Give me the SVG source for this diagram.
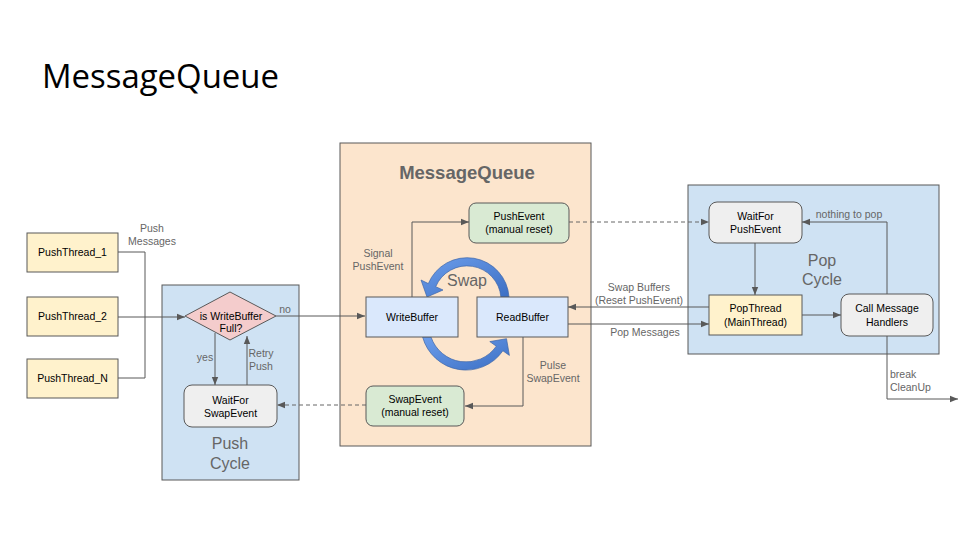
<svg xmlns="http://www.w3.org/2000/svg" width="960" height="540" viewBox="0 0 960 540">
<defs>
<style>
.box{stroke:#595959;stroke-width:1}
.yellow{fill:#fff2cc}
.blue{fill:#cfe2f3}
.orange{fill:#fce5cd}
.green{fill:#d9ead3}
.grey{fill:#efefef}
.buf{fill:#dae8fc}
.pink{fill:#f4cccc}
.t{font-family:"Liberation Sans",Arial,sans-serif;font-size:10.5px;fill:#000;text-anchor:middle}
.l{font-family:"Liberation Sans",Arial,sans-serif;font-size:10.5px;fill:#666;text-anchor:middle}
.ls{text-anchor:start}
.big{font-family:"Liberation Sans",Arial,sans-serif;font-size:16px;fill:#666;text-anchor:middle}
.ln{fill:none;stroke:#595959;stroke-width:1}
.dash{fill:none;stroke:#666;stroke-width:1;stroke-dasharray:4 3}
</style>
<marker id="ah" viewBox="0 0 10 10" refX="10" refY="5" markerWidth="8" markerHeight="8" markerUnits="userSpaceOnUse" orient="auto">
<path d="M0,1 L10,5 L0,9 Z" fill="#595959"/>
</marker>
<linearGradient id="sw" x1="0" y1="0" x2="1" y2="1">
<stop offset="0" stop-color="#6d9eeb"/>
<stop offset="1" stop-color="#3c6fc4"/>
</linearGradient>
</defs>
<rect width="960" height="540" fill="#fff"/>
<text x="42" y="88" font-family="'Open Sans',sans-serif" font-size="33" font-weight="500" fill="#000" textLength="237" lengthAdjust="spacingAndGlyphs">MessageQueue</text>

<g id="push-cycle">
<rect class="box blue" x="162" y="285" width="137" height="195"/>
<text class="big" x="230" y="449">Push</text>
<text class="big" x="230" y="469">Cycle</text>
</g>
<g id="message-queue">
<rect class="box orange" x="340" y="143" width="251" height="303"/>
<text x="467" y="179" font-family="'Liberation Sans',Arial,sans-serif" font-size="18.5" font-weight="bold" fill="#666" text-anchor="middle">MessageQueue</text>
</g>
<g id="pop-cycle">
<rect class="box blue" x="688" y="185" width="251" height="169"/>
<text class="big" x="822" y="266">Pop</text>
<text class="big" x="822" y="285">Cycle</text>
</g>

<g id="connectors">
<path class="ln" d="M118,252 H145 V378 H118"/>
<path class="ln" d="M118,317 H185" marker-end="url(#ah)"/>
<path class="ln" d="M276,316 H365" marker-end="url(#ah)"/>
<path class="ln" d="M215,333 V385" marker-end="url(#ah)"/>
<path class="ln" d="M247,385 V336" marker-end="url(#ah)"/>
<path class="dash" d="M366,405 H277" marker-end="url(#ah)"/>
<path class="ln" d="M412,297 V222 H469" marker-end="url(#ah)"/>
<path class="ln" d="M523,337 V406 H465" marker-end="url(#ah)"/>
<path class="dash" d="M569,222 H709" marker-end="url(#ah)"/>
<path class="ln" d="M709,307 H568" marker-end="url(#ah)"/>
<path class="ln" d="M568,324 H709" marker-end="url(#ah)"/>
<path class="ln" d="M755,243 V295" marker-end="url(#ah)"/>
<path class="ln" d="M802,315 H841" marker-end="url(#ah)"/>
<path class="ln" d="M887,294 V222 H802" marker-end="url(#ah)"/>
<path class="ln" d="M887,336 V399 H958" marker-end="url(#ah)"/>
<text class="l" x="152" y="232">Push</text>
<text class="l" x="152" y="245">Messages</text>
<text class="l" x="285" y="313">no</text>
<text class="l" x="205" y="361">yes</text>
<text class="l" x="261" y="357">Retry</text>
<text class="l" x="261" y="370">Push</text>
<text class="l" x="378" y="257">Signal</text>
<text class="l" x="378" y="270">PushEvent</text>
<text class="l" x="553" y="369">Pulse</text>
<text class="l" x="553" y="382">SwapEvent</text>
<text class="l" x="639" y="291">Swap Buffers</text>
<text class="l" x="639" y="304">(Reset PushEvent)</text>
<text class="l" x="645" y="336">Pop Messages</text>
<text class="l" x="849" y="218">nothing to pop</text>
<text class="l ls" x="890" y="378">break</text>
<text class="l ls" x="890" y="391">CleanUp</text>
</g>

<g id="swap">
<path d="M509,297 A42 42 0 0 0 428.3,283.6 L421,280 L427,297 L443,290 L435.7,286.7 A34 34 0 0 1 500.9,297 Z" fill="url(#sw)" stroke="#3d66a8" stroke-width="0.7"/>
<path d="M422.6,337 A45 45 0 0 0 502.9,350.8 L509.4,355.4 L506.5,338.7 L489.8,341.6 L496.3,346.2 A37 37 0 0 1 431,337 Z" fill="url(#sw)" stroke="#3d66a8" stroke-width="0.7"/>
<text class="big" x="467" y="286">Swap</text>
</g>

<g id="pushthread-1"><rect class="box yellow" x="27" y="233" width="91" height="39"/><text class="t" x="72.5" y="256">PushThread_1</text></g>
<g id="pushthread-2"><rect class="box yellow" x="27" y="297" width="91" height="39"/><text class="t" x="72.5" y="320">PushThread_2</text></g>
<g id="pushthread-n"><rect class="box yellow" x="27" y="359" width="91" height="39"/><text class="t" x="72.5" y="382">PushThread_N</text></g>
<g id="is-full"><path class="box pink" d="M185,316 L230,292 L276,316 L230,340 Z"/><text class="t" x="231" y="320">is WriteBuffer</text><text class="t" x="231" y="332">Full?</text></g>
<g id="waitfor-swap"><rect class="box grey" x="184" y="385" width="93" height="42" rx="8"/><text class="t" x="230.5" y="404">WaitFor</text><text class="t" x="230.5" y="417">SwapEvent</text></g>
<g id="pushevent"><rect class="box green" x="469" y="203" width="100" height="40" rx="7"/><text class="t" x="519" y="220">PushEvent</text><text class="t" x="519" y="233">(manual reset)</text></g>
<g id="writebuffer"><rect class="box buf" x="366" y="297" width="92" height="40"/><text class="t" x="412" y="321">WriteBuffer</text></g>
<g id="readbuffer"><rect class="box buf" x="477" y="297" width="91" height="40"/><text class="t" x="522.5" y="321">ReadBuffer</text></g>
<g id="swapevent"><rect class="box green" x="366" y="386" width="98" height="40" rx="7"/><text class="t" x="415" y="403">SwapEvent</text><text class="t" x="415" y="416">(manual reset)</text></g>
<g id="waitfor-push"><rect class="box grey" x="709" y="202" width="93" height="41" rx="8"/><text class="t" x="755.5" y="220">WaitFor</text><text class="t" x="755.5" y="233">PushEvent</text></g>
<g id="popthread"><rect class="box yellow" x="709" y="295" width="93" height="40"/><text class="t" x="755.5" y="312">PopThread</text><text class="t" x="755.5" y="326">(MainThread)</text></g>
<g id="call-handlers"><rect class="box grey" x="841" y="294" width="92" height="42" rx="8"/><text class="t" x="887" y="312">Call Message</text><text class="t" x="887" y="326">Handlers</text></g>
</svg>
